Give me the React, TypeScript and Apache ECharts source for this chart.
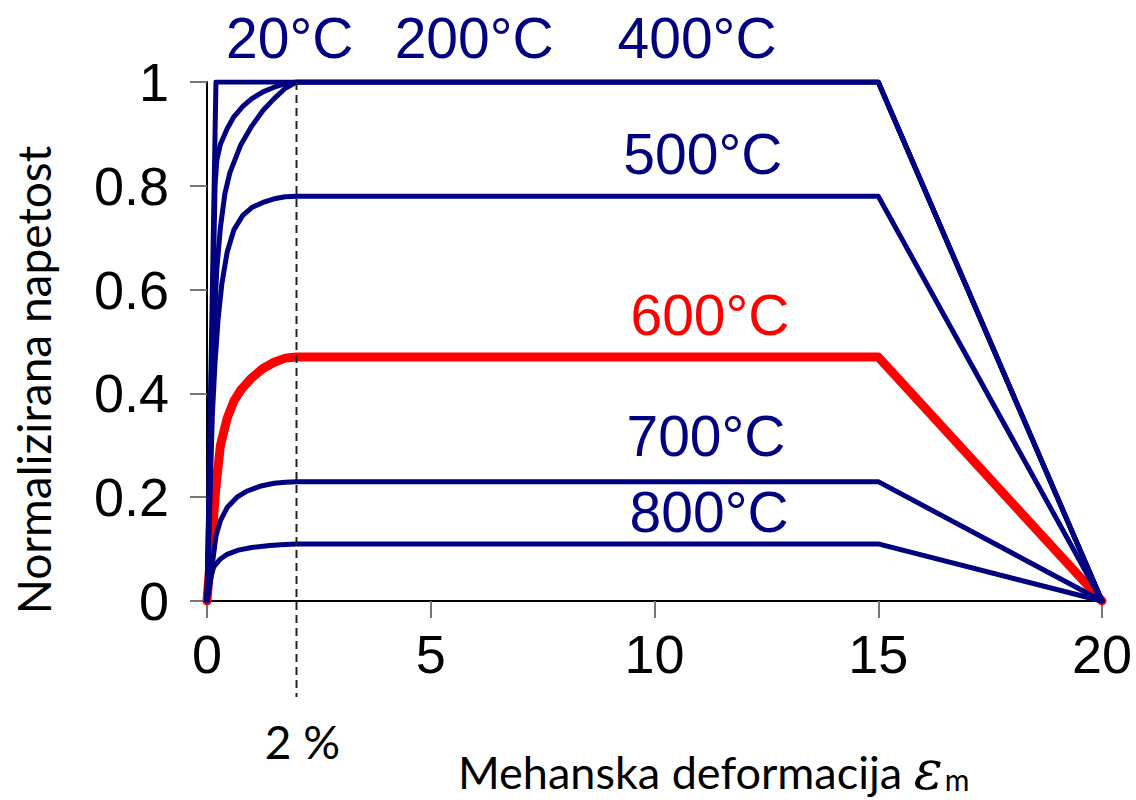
import React, { useEffect, useRef } from "react";
import * as echarts from "echarts";

// strain (%) vs normalised stress
const curve20 = [[0, 0], [0.2, 1], [15, 1], [20, 0]];
const curve200 = [[0, 0], [0.18, 0.8], [0.22, 0.85], [0.3, 0.88], [0.45, 0.91], [0.6, 0.933], [0.8, 0.953], [1.0, 0.968], [1.25, 0.981], [1.5, 0.99], [1.75, 0.997], [2, 1], [15, 1], [20, 0]];
const curve400 = [[0, 0], [0.12, 0.42], [0.17, 0.55], [0.22, 0.64], [0.3, 0.72], [0.4, 0.785], [0.51, 0.825], [0.75, 0.878], [1.0, 0.915], [1.25, 0.945], [1.5, 0.968], [1.75, 0.988], [2, 1], [15, 1], [20, 0]];
const curve500 = [[0, 0], [0.12, 0.36], [0.18, 0.46], [0.25, 0.545], [0.33, 0.61], [0.45, 0.672], [0.6, 0.715], [0.8, 0.743], [1.0, 0.758], [1.25, 0.768], [1.5, 0.775], [1.75, 0.779], [2, 0.78], [15, 0.78], [20, 0]];
const curve600 = [[0, 0], [0.1, 0.11], [0.2, 0.22], [0.3, 0.3], [0.45, 0.352], [0.6, 0.385], [0.75, 0.406], [1.0, 0.43], [1.25, 0.448], [1.5, 0.46], [1.75, 0.468], [2, 0.47], [15, 0.47], [20, 0]];
const curve700 = [[0, 0], [0.11, 0.065], [0.2, 0.125], [0.3, 0.155], [0.45, 0.18], [0.67, 0.2], [0.9, 0.212], [1.18, 0.221], [1.5, 0.227], [1.75, 0.229], [2, 0.23], [15, 0.23], [20, 0]];
const curve800 = [[0, 0], [0.1, 0.05], [0.15, 0.066], [0.3, 0.081], [0.45, 0.09], [0.7, 0.098], [1.0, 0.103], [1.4, 0.107], [1.75, 0.109], [2, 0.11], [15, 0.11], [20, 0]];

const seriesNames = ["20°C", "200°C", "400°C", "500°C", "600°C", "700°C", "800°C"];
const seriesData = [curve20, curve200, curve400, curve500, curve600, curve700, curve800];
const highlighted = "600°C";

const xMin = 0, xMax = 20, xStep = 5;
const yMin = 0, yMax = 1, yStep = 0.2;
const refStrain = 2;
const refLabel = "2 %";
const xName = "Mehanska deformacija";
const xSymbol = "ε";
const xSub = "m";
const yName = "Normalizirana napetost";

// annotation anchor points in data units
const tempLabelPos: Record<string, [number, number]> = {
  "20°C": [1.85, 1.085],
  "200°C": [5.97, 1.085],
  "400°C": [10.95, 1.085],
  "500°C": [11.08, 0.861],
  "600°C": [11.24, 0.551],
  "700°C": [11.15, 0.318],
  "800°C": [11.22, 0.171],
};

const BLUE = "#000080";
const RED = "#ff0000";

function measure(text: string, font: string): number {
  const c = document.createElement("canvas").getContext("2d");
  if (!c) return text.length * 20;
  c.font = font;
  return c.measureText(text).width;
}

export default function App() {
  const ref = useRef<HTMLDivElement>(null);
  useEffect(() => {
    if (!ref.current) return;
    const chart = echarts.init(ref.current, null, { renderer: "svg" });
    const tickFont = { fontSize: 54, fontFamily: "Liberation Sans", color: "#000" };
    chart.setOption({
      animation: false,
      backgroundColor: "#fff",
      grid: { left: 207, right: 34, top: 82, bottom: 199, containLabel: false },
      xAxis: {
        type: "value",
        min: xMin,
        max: xMax,
        interval: xStep,
        axisLine: { show: true, lineStyle: { color: "#000", width: 2 } },
        axisTick: { show: true, length: 17, lineStyle: { color: "#777", width: 2 } },
        axisLabel: { ...tickFont, margin: 26 },
        splitLine: { show: false },
      },
      yAxis: {
        type: "value",
        min: yMin,
        max: yMax,
        interval: yStep,
        axisLine: { show: true, lineStyle: { color: "#000", width: 2 } },
        axisTick: { show: true, length: 17, lineStyle: { color: "#777", width: 2 } },
        axisLabel: { ...tickFont, margin: 38 },
        splitLine: { show: false },
      },
      series: seriesNames.map((name, i) => ({
        name,
        type: "line",
        data: seriesData[i],
        symbol: "none",
        showSymbol: false,
        smooth: false,
        z: name === highlighted ? 3 : 4,
        lineStyle: {
          color: name === highlighted ? RED : BLUE,
          width: name === highlighted ? 9 : 5,
          join: "round",
          cap: "round",
        },
      })),
    });

    const top = chart.convertToPixel({ gridIndex: 0 }, [refStrain, yMax]) as number[];
    const bottom = chart.convertToPixel({ gridIndex: 0 }, [refStrain, yMin]) as number[];

    const nameX = 458;
    const nameW = measure(xName + " ", "45px Lato");
    const symW = measure(xSymbol, "italic 54px 'DejaVu Serif'");

    const graphics: any[] = [
      {
        type: "line",
        z: 10,
        shape: { x1: top[0], y1: top[1], x2: bottom[0], y2: bottom[1] + 96 },
        style: { stroke: "#222", lineWidth: 2, lineDash: [8, 5] },
      },
      {
        type: "text",
        x: bottom[0] + 6,
        y: bottom[1] + 140,
        style: {
          text: refLabel,
          fontSize: 46,
          fontFamily: "Lato",
          fill: "#000",
          align: "center",
          verticalAlign: "middle",
        },
      },
      {
        type: "text",
        x: nameX,
        y: 772,
        style: {
          text: xName,
          fontSize: 45,
          fontFamily: "Lato",
          fill: "#000",
          align: "left",
          verticalAlign: "middle",
        },
      },
      {
        type: "text",
        x: nameX + nameW,
        y: 770,
        style: {
          text: xSymbol,
          fontSize: 54,
          fontFamily: "DejaVu Serif",
          fontStyle: "italic",
          fill: "#000",
          align: "left",
          verticalAlign: "middle",
        },
      },
      {
        type: "text",
        x: nameX + nameW + symW + 2,
        y: 779,
        style: {
          text: xSub,
          fontSize: 30,
          fontFamily: "Lato",
          fill: "#000",
          align: "left",
          verticalAlign: "middle",
        },
      },
      {
        type: "text",
        x: 33,
        y: 380,
        rotation: Math.PI / 2,
        style: {
          text: yName,
          fontSize: 46,
          fontFamily: "Lato",
          fill: "#000",
          align: "center",
          verticalAlign: "middle",
        },
      },
    ];

    seriesNames.forEach((name) => {
      const p = chart.convertToPixel({ gridIndex: 0 }, tempLabelPos[name]) as number[];
      graphics.push({
        type: "text",
        x: p[0],
        y: p[1],
        z: 20,
        style: {
          text: name,
          fontSize: 57,
          fontFamily: "Liberation Sans",
          fill: name === highlighted ? RED : BLUE,
          align: "center",
          verticalAlign: "middle",
        },
      });
    });

    chart.setOption({ graphic: graphics });
    return () => chart.dispose();
  }, []);
  return (
    <div
      ref={ref}
      style={{ position: "absolute", left: 0, top: 0, width: 1136, height: 800, background: "#fff" }}
    />
  );
}
